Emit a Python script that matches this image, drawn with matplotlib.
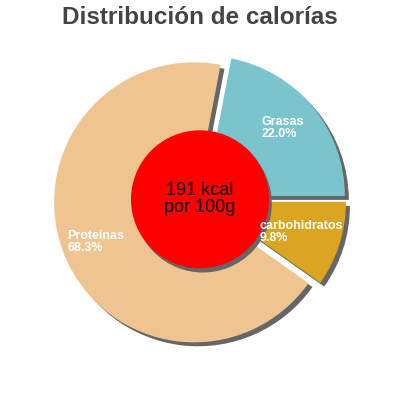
import matplotlib.pyplot as plt
from matplotlib.patches import Circle

# values
labels = ["Grasas", "Proteinas", "carbohidratos"]
shares = [22.0, 68.3, 9.8]
colors = ["#7AC5CD", "#EEC591", "#DAA520"]
explode = [0.045, 0.045, 0.045]
center_text = "191 kcal\npor 100g"
title = "Distribución de calorías"

# label anchor points in pixels (left edge, vertical middle), pie centre at (200, 200)
label_px = [(262, 128), (67, 242), (260, 232)]

plt.rcParams["font.family"] = ["Liberation Sans", "DejaVu Sans"]

fig = plt.figure(figsize=(4, 4), dpi=100)
ax = fig.add_axes([0, 0, 1, 1])
scale = 140.0  # pixels per unit radius

shadow = 0.028
# shadow pie
ax.pie(shares, colors=["#666666"] * 3, explode=explode, startangle=0,
       center=(shadow, -shadow), radius=1.0, frame=True,
       wedgeprops={"linewidth": 0, "zorder": 1})
ax.pie(shares, colors=colors, explode=explode, startangle=0,
       center=(0, 0), radius=1.0, frame=True,
       wedgeprops={"linewidth": 0, "zorder": 2})

ax.set_xlim(-200 / scale, 200 / scale)
ax.set_ylim(-200 / scale, 200 / scale)
ax.set_aspect("equal")
ax.axis("off")

for (px, py), name, val in zip(label_px, labels, shares):
    ax.text((px - 200) / scale, (200 - py) / scale, f"{name}\n{val:.1f}%",
            color="white", fontsize=9, fontweight="bold", ha="left", va="center",
            linespacing=0.9, zorder=5)

r_in = 69 / scale
ax.add_patch(Circle((0.02, -0.025), r_in, color="#666666", zorder=3, lw=0))
ax.add_patch(Circle((0, 0.005), r_in, color="#FF0000", zorder=4, lw=0))
ax.text(0, 0.005, center_text, ha="center", va="center", fontsize=13,
        color="black", linespacing=1.0, zorder=6)

fig.text(0.5, 1 - 18 / 400, title, ha="center", va="center", fontsize=17.5,
         fontweight="bold", color="#444444")

fig.savefig("out.png", dpi=100)
